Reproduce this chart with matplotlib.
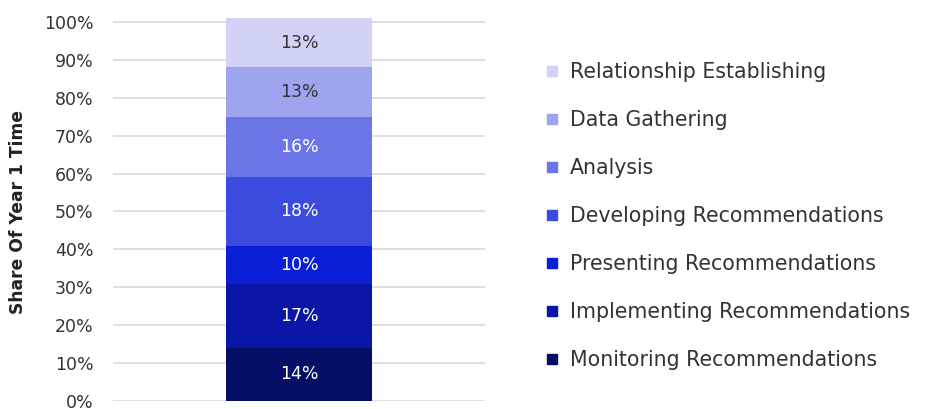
import matplotlib.pyplot as plt
from matplotlib.lines import Line2D

categories = ['Monitoring Recommendations', 'Implementing Recommendations',
              'Presenting Recommendations', 'Developing Recommendations',
              'Analysis', 'Data Gathering', 'Relationship Establishing']
values = [14, 17, 10, 18, 16, 13, 13]
colors = ['#060f66', '#0a16a6', '#0a1fd6', '#3b4bdd', '#6b75e6', '#9ea5ee', '#d0d3f5']
label_colors = ['white'] * 5 + ['#333333', '#333333']
yticks = list(range(0, 101, 10))

plt.rcParams['font.family'] = ['DejaVu Sans']
fig = plt.figure(figsize=(9.26, 4.09), dpi=100)
ax = fig.add_axes([113 / 926, 8 / 409, 372 / 926, 0.9452])

bottom = 0
for cat, v, c, lc in zip(categories, values, colors, label_colors):
    ax.bar(0, v / 100, bottom=bottom / 100, width=0.79, color=c, zorder=3)
    ax.text(0, (bottom + v / 2) / 100, f'{v}%', ha='center', va='center',
            color=lc, fontsize=12.5, zorder=4)
    bottom += v

ax.set_xlim(-1, 1)
ax.set_ylim(0, 1.02)
ax.set_yticks([t / 100 for t in yticks])
ax.set_yticklabels([f'{t}%' for t in yticks], fontsize=12.5, color='#333333')
ax.set_xticks([])
ax.tick_params(axis='y', length=0, pad=14)
ax.grid(axis='y', color='#dcdcdc', linewidth=1.3, zorder=0)
for s in ax.spines.values():
    s.set_visible(False)

fig.text(18 / 926, (409 - 212) / 409, 'Share Of Year 1 Time', rotation=90,
         ha='center', va='center', fontsize=12.3, fontweight='bold', color='#222222')

handles = [Line2D([], [], marker='s', linestyle='none', markersize=7.5,
                  markerfacecolor=c, markeredgecolor=c) for c in colors[::-1]]
fig.legend(handles, categories[::-1], loc='upper left',
           bbox_to_anchor=(523 / 926, (409 - 44) / 409), frameon=False,
           fontsize=14.8, labelspacing=1.36, handlelength=1.0, handletextpad=0.4,
           labelcolor='#333333')

fig.savefig('out.png', dpi=100)
